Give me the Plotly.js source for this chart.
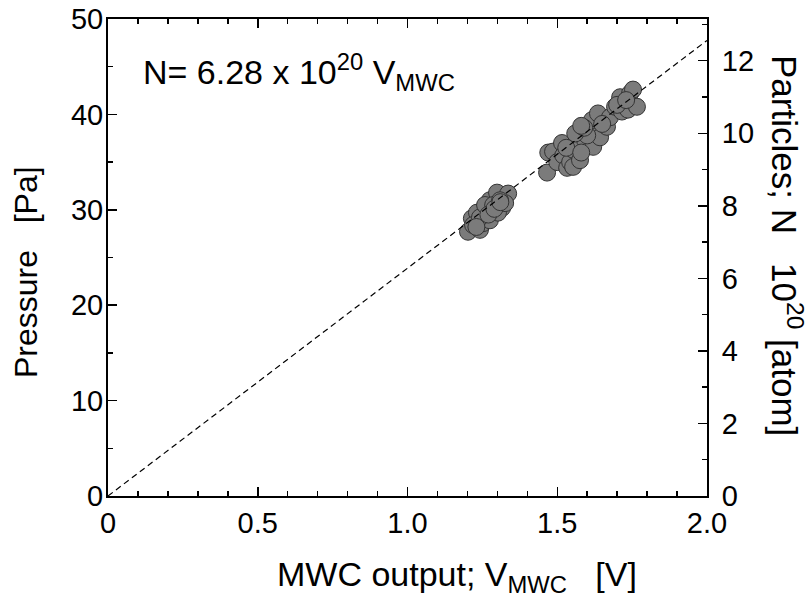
<!DOCTYPE html>
<html>
<head>
<meta charset="utf-8">
<script src="https://cdn.plot.ly/plotly-3.0.1.min.js"></script>
<style>html,body{margin:0;padding:0;background:#fff;}#chart{width:811px;height:608px;}</style>
</head>
<body>
<div id="chart"></div>
<script>
// MWC output voltage [V]
const vmwc = [1.202,1.242,1.215,1.232,1.265,1.275,1.299,1.336,1.316,1.252,1.275,1.302,1.326,1.219,1.242,1.259,1.286,1.309,1.23,1.27,1.29,1.31,
  1.466,1.47,1.486,1.50,1.516,1.52,1.533,1.543,1.553,1.553,1.566,1.576,1.593,1.603,1.62,1.616,1.636,1.643,1.666,1.676,1.693,1.71,1.716,1.736,1.743,1.753,1.766,
  1.53,1.58,1.60,1.65,1.70,1.73,1.56,1.59,1.58];
// Pressure [Pa]
const pressure = [27.7,27.9,29.1,29.7,30.0,31.0,31.8,31.7,30.2,28.6,28.9,29.7,30.7,28.4,29.2,30.5,30.5,31.0,28.2,29.5,30.1,30.8,
  33.9,36.0,36.1,35.0,37.0,35.7,34.4,35.0,36.3,34.5,37.3,35.2,37.3,38.4,36.6,39.4,40.1,37.6,38.7,39.7,40.8,41.8,40.3,40.5,42.2,42.6,40.8,
  36.5,36.0,37.8,39.0,41.0,41.5,38.0,38.6,38.8];
// Fit line: N = 6.28 x 10^20 V_MWC
const fitV = [0, 2.0];
const fitSlope = 6.28;
const fitN = fitV.map(v => v * fitSlope);

const xTicks = [0, 0.5, 1.0, 1.5, 2.0];
const xTickText = ['0', '0.5', '1.0', '1.5', '2.0'];
const yTicks = [0, 10, 20, 30, 40, 50];
const y2Ticks = [0, 2, 4, 6, 8, 10, 12];

const F = 'Liberation Sans, Arial, sans-serif';
const tickFont = {family: F, size: 29, color: '#000'};

const traces = [
  {x: fitV, y: fitN, yaxis: 'y2', mode: 'lines', line: {color: '#000', width: 1.2, dash: '6px,4px'}, hoverinfo: 'skip'},
  {x: vmwc, y: pressure, mode: 'markers', marker: {size: 17, color: '#7b7b7b', line: {color: '#333', width: 1}}}
];

const pl = 108, pr = 707, pt = 19, pb = 496;
const px = v => (v - pl) / (pr - pl);
const py = v => (pb - v) / (pb - pt);

const layout = {
  width: 811, height: 608,
  margin: {l: pl, r: 811 - pr, t: pt, b: 608 - pb, pad: 0},
  paper_bgcolor: '#fff', plot_bgcolor: '#fff',
  showlegend: false,
  xaxis: {
    range: [0, 2.0], tickvals: xTicks, ticktext: xTickText,
    ticks: 'inside', ticklen: 9, tickwidth: 1.5, tickcolor: '#000',
    showline: true, linewidth: 2, linecolor: '#000', mirror: 'ticks',
    showgrid: false, zeroline: false, tickfont: tickFont,
    minor: {dtick: 0.1, ticks: 'inside', ticklen: 5, tickwidth: 1.5, tickcolor: '#000', showgrid: false}
  },
  yaxis: {
    range: [0, 50], tickvals: yTicks,
    ticks: 'inside', ticklen: 9, tickwidth: 1.5, tickcolor: '#000',
    showline: true, linewidth: 2, linecolor: '#000',
    showgrid: false, zeroline: false, tickfont: tickFont, ticklabelstandoff: -3,
    minor: {dtick: 5, ticks: 'inside', ticklen: 5, tickwidth: 1.5, tickcolor: '#000', showgrid: false}
  },
  yaxis2: {
    overlaying: 'y', side: 'right', range: [0, 13.15], tickvals: y2Ticks,
    ticks: 'inside', ticklen: 9, tickwidth: 1.5, tickcolor: '#000',
    showline: true, linewidth: 2, linecolor: '#000',
    showgrid: false, zeroline: false, tickfont: tickFont, ticklabelstandoff: 7,
    minor: {dtick: 1, ticks: 'inside', ticklen: 5, tickwidth: 1.5, tickcolor: '#000', showgrid: false}
  },
  annotations: [
    {xref: 'paper', yref: 'paper', x: px(141), y: py(72), xanchor: 'left', yanchor: 'middle', showarrow: false,
     text: 'N= 6.28 x 10<sup>20</sup> V<sub>MWC</sub>', font: {family: F, size: 34, color: '#000'}},
    {xref: 'paper', yref: 'paper', x: px(457), y: py(576), xanchor: 'center', yanchor: 'middle', showarrow: false,
     text: 'MWC output; V<sub>MWC</sub>   [V]', font: {family: F, size: 34, color: '#000'}},
    {xref: 'paper', yref: 'paper', x: px(26), y: py(272), xanchor: 'center', yanchor: 'middle', showarrow: false, textangle: -90,
     text: 'Pressure   [Pa]', font: {family: F, size: 32, color: '#000'}},
    {xref: 'paper', yref: 'paper', x: px(787), y: py(245), xanchor: 'center', yanchor: 'middle', showarrow: false, textangle: 90,
     text: 'Particles; N   10<sup>20</sup> [atom]', font: {family: F, size: 35, color: '#000'}}
  ]
};

Plotly.newPlot('chart', traces, layout, {staticPlot: true, displayModeBar: false});
</script>
</body>
</html>
